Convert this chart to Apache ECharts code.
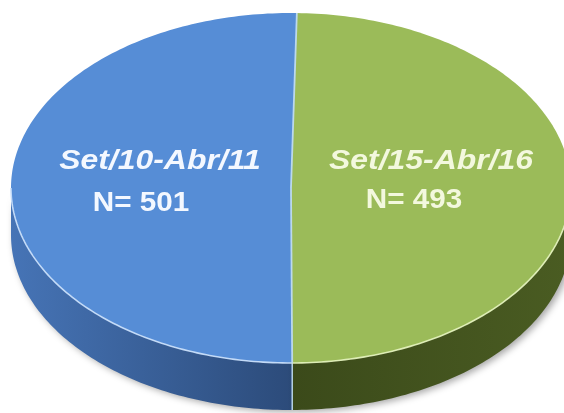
<!DOCTYPE html>
<html>
<head>
<meta charset="utf-8">
<script src="https://cdn.jsdelivr.net/npm/echarts@6/dist/echarts.min.js"></script>
<style>
  html, body { margin: 0; padding: 0; background: #ffffff; }
  #chart { width: 564px; height: 413px; }
</style>
</head>
<body>
<div id="chart"></div>
<script>
// Survey periods and number of respondents in each
const categories = ['Set/10-Abr/11', 'Set/15-Abr/16'];
const counts = [501, 493];

const total = counts.reduce((a, b) => a + b, 0);
const cumulative = counts.map((v, i) => counts.slice(0, i).reduce((a, b) => a + b, 0));

// Disc geometry (pixels) and rotation of the first slice (degrees clockwise from 12 o'clock)
const CX = 291, CY = 188, RX = 280, RY = 175, DEPTH = 47, START = 1.2;

const topColors = ['#568DD6', '#9BBB59'];
const rimColors = ['rgba(200,222,250,0.95)', 'rgba(226,240,186,0.95)'];
const sideStops = [['#4674B6', '#2C4B7A'], ['#3B4A1A', '#4A5C22']];
const textColors = ['#F4F8FF', '#F3F8DE'];
const dividerColor = 'rgba(190,218,240,0.95)';
// label line anchors, relative to the disc centre
const titleOffsets = [[-131, -27], [140, -27]];
const countOffsets = [[-150, 15], [123, 12]];

function pt(phi, dy) {
  const r = phi * Math.PI / 180;
  return [CX + RX * Math.sin(r), CY - RY * Math.cos(r) + (dy || 0)];
}
function arc(a, b, dy) {
  const n = Math.max(2, Math.ceil(Math.abs(b - a)));
  const out = [];
  for (let k = 0; k <= n; k++) out.push(pt(a + (b - a) * k / n, dy));
  return out;
}
function frontParts(a, b) {
  // visible side wall: angles between 90 and 270 (lower half of the ellipse)
  let lo = Math.min(a, b), hi = Math.max(a, b);
  while (lo < 0) { lo += 360; hi += 360; }
  const parts = [];
  [[90, 270], [450, 630]].forEach(([s, e]) => {
    const fs = Math.max(lo, s), fe = Math.min(hi, e);
    if (fe > fs) parts.push([fs, fe]);
  });
  return parts;
}
function inFront(a) {
  let x = ((a % 360) + 360) % 360;
  return x >= 90 && x <= 270;
}

function renderItem(params, api) {
  const i = params.dataIndex;
  const value = api.value(0);
  const before = api.value(1);
  const a0 = START - before / total * 360;
  const a1 = a0 - value / total * 360;
  const children = [];

  frontParts(a0, a1).forEach(([fs, fe]) => {
    const upper = arc(fs, fe, 0);
    const lower = arc(fe, fs, DEPTH);
    children.push({
      type: 'polygon', z2: 1,
      shape: { points: upper.concat(lower) },
      style: {
        fill: new echarts.graphic.LinearGradient(0, 0, 1, 0, [
          { offset: 0, color: sideStops[i][0] },
          { offset: 1, color: sideStops[i][1] }
        ]),
        shadowBlur: 7, shadowColor: 'rgba(0,0,0,0.35)',
        shadowOffsetX: 3, shadowOffsetY: 2
      }
    });
    children.push({
      type: 'polyline', z2: 12,
      shape: { points: upper },
      style: { stroke: rimColors[i], lineWidth: 1.6, fill: null }
    });
  });

  if (inFront(a0)) {
    const p = pt(a0, 0), q = pt(a0, DEPTH);
    children.push({
      type: 'line', z2: 3,
      shape: { x1: p[0], y1: p[1], x2: q[0], y2: q[1] },
      style: { stroke: dividerColor, lineWidth: 1.5 }
    });
  }

  children.push({
    type: 'polygon', z2: 10,
    shape: { points: [[CX, CY]].concat(arc(a0, a1, 0)) },
    style: { fill: topColors[i] }
  });

  const e = pt(a0, 0);
  children.push({
    type: 'line', z2: 13,
    shape: { x1: CX, y1: CY, x2: e[0], y2: e[1] },
    style: { stroke: dividerColor, lineWidth: 1.8 }
  });

  children.push({
    type: 'text', z2: 20,
    x: CX + titleOffsets[i][0], y: CY + titleOffsets[i][1], scaleX: 1.14,
    style: {
      text: categories[i], fill: textColors[i],
      font: 'italic bold 28px "Liberation Sans", Arial, sans-serif',
      align: 'center', verticalAlign: 'middle'
    }
  });
  children.push({
    type: 'text', z2: 20,
    x: CX + countOffsets[i][0], y: CY + countOffsets[i][1], scaleX: 1.06,
    style: {
      text: 'N= ' + value, fill: textColors[i],
      font: 'bold 28px "Liberation Sans", Arial, sans-serif',
      align: 'center', verticalAlign: 'middle'
    }
  });

  return { type: 'group', children: children };
}

const chart = echarts.init(document.getElementById('chart'), null, { renderer: 'canvas' });
chart.setOption({
  backgroundColor: '#ffffff',
  animation: false,
  series: [{
    type: 'custom',
    coordinateSystem: 'none',
    silent: true,
    renderItem: renderItem,
    data: counts.map((v, i) => ({ name: categories[i], value: [v, cumulative[i]] }))
  }]
});
</script>
</body>
</html>
